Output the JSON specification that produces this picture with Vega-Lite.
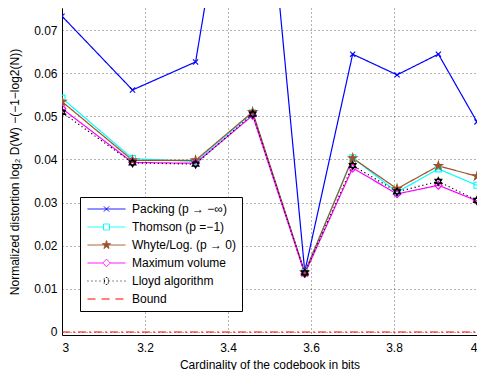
{
  "$schema": "https://vega.github.io/schema/vega-lite/v6.json",
  "autosize": {"type": "none"},
  "padding": {"left": 62, "top": 8, "right": 0, "bottom": 35},
  "width": 415,
  "height": 327,
  "background": "white",
  "config": {
    "font": "Liberation Sans",
    "view": {"stroke": null},
    "axis": {"labelFont": "Liberation Sans", "titleFont": "Liberation Sans", "labelFontSize": 12, "titleFontSize": 12, "titleFontWeight": "normal", "labelColor": "#000", "titleColor": "#000", "domainColor": "#000", "domainWidth": 1, "ticks": false, "gridColor": "#000", "gridOpacity": 0.6, "gridDash": [1, 3], "gridWidth": 1}
  },
  "data": {"values": [
    {"series": "Packing (p → −∞)", "x": 3, "y": 0.0732},
    {"series": "Packing (p → −∞)", "x": 3.1699, "y": 0.0561},
    {"series": "Packing (p → −∞)", "x": 3.3219, "y": 0.0626},
    {"series": "Packing (p → −∞)", "x": 3.4594, "y": 0.142},
    {"series": "Packing (p → −∞)", "x": 3.585, "y": 0.0140},
    {"series": "Packing (p → −∞)", "x": 3.7004, "y": 0.0644},
    {"series": "Packing (p → −∞)", "x": 3.8074, "y": 0.0596},
    {"series": "Packing (p → −∞)", "x": 3.9069, "y": 0.0644},
    {"series": "Packing (p → −∞)", "x": 4, "y": 0.0487},
    {"series": "Thomson (p =−1)", "x": 3, "y": 0.0542},
    {"series": "Thomson (p =−1)", "x": 3.1699, "y": 0.0402},
    {"series": "Thomson (p =−1)", "x": 3.3219, "y": 0.0395},
    {"series": "Thomson (p =−1)", "x": 3.4594, "y": 0.0508},
    {"series": "Thomson (p =−1)", "x": 3.585, "y": 0.0138},
    {"series": "Thomson (p =−1)", "x": 3.7004, "y": 0.0404},
    {"series": "Thomson (p =−1)", "x": 3.8074, "y": 0.0324},
    {"series": "Thomson (p =−1)", "x": 3.9069, "y": 0.0378},
    {"series": "Thomson (p =−1)", "x": 4, "y": 0.0340},
    {"series": "Whyte/Log. (p → 0)", "x": 3, "y": 0.0534},
    {"series": "Whyte/Log. (p → 0)", "x": 3.1699, "y": 0.0398},
    {"series": "Whyte/Log. (p → 0)", "x": 3.3219, "y": 0.0398},
    {"series": "Whyte/Log. (p → 0)", "x": 3.4594, "y": 0.0510},
    {"series": "Whyte/Log. (p → 0)", "x": 3.585, "y": 0.0138},
    {"series": "Whyte/Log. (p → 0)", "x": 3.7004, "y": 0.0403},
    {"series": "Whyte/Log. (p → 0)", "x": 3.8074, "y": 0.0332},
    {"series": "Whyte/Log. (p → 0)", "x": 3.9069, "y": 0.0385},
    {"series": "Whyte/Log. (p → 0)", "x": 4, "y": 0.0361},
    {"series": "Maximum volume", "x": 3, "y": 0.0518},
    {"series": "Maximum volume", "x": 3.1699, "y": 0.0393},
    {"series": "Maximum volume", "x": 3.3219, "y": 0.0391},
    {"series": "Maximum volume", "x": 3.4594, "y": 0.0502},
    {"series": "Maximum volume", "x": 3.585, "y": 0.0135},
    {"series": "Maximum volume", "x": 3.7004, "y": 0.0380},
    {"series": "Maximum volume", "x": 3.8074, "y": 0.0320},
    {"series": "Maximum volume", "x": 3.9069, "y": 0.0340},
    {"series": "Maximum volume", "x": 4, "y": 0.0304},
    {"series": "Lloyd algorithm", "x": 3, "y": 0.0509},
    {"series": "Lloyd algorithm", "x": 3.1699, "y": 0.0392},
    {"series": "Lloyd algorithm", "x": 3.3219, "y": 0.0389},
    {"series": "Lloyd algorithm", "x": 3.4594, "y": 0.0505},
    {"series": "Lloyd algorithm", "x": 3.585, "y": 0.0137},
    {"series": "Lloyd algorithm", "x": 3.7004, "y": 0.0386},
    {"series": "Lloyd algorithm", "x": 3.8074, "y": 0.0325},
    {"series": "Lloyd algorithm", "x": 3.9069, "y": 0.0349},
    {"series": "Lloyd algorithm", "x": 4, "y": 0.0305},
    {"series": "Bound", "x": 3, "y": 0},
    {"series": "Bound", "x": 4, "y": 0}
  ]},
  "layer": [
    {
      "mark": {"type": "line", "clip": true, "strokeWidth": 1.2},
      "encoding": {
        "x": {"field": "x", "type": "quantitative", "scale": {"domain": [3, 4], "nice": false, "zero": false}, "axis": {"values": [3, 3.2, 3.4, 3.6, 3.8, 4], "title": "Cardinality of the codebook in bits", "labelPadding": 7, "titlePadding": 6, "grid": true, "format": "~g"}},
        "y": {"field": "y", "type": "quantitative", "scale": {"domain": [-0.0007, 0.0751], "nice": false, "zero": false}, "axis": {"values": [0, 0.01, 0.02, 0.03, 0.04, 0.05, 0.06, 0.07], "title": "Normalized distortion log₂ D(W) −(−1−log2(N))", "labelPadding": 5, "titlePadding": 12, "grid": true, "format": "~g"}},
        "color": {
          "field": "series", "type": "nominal",
          "scale": {"domain": ["Packing (p → −∞)", "Thomson (p =−1)", "Whyte/Log. (p → 0)", "Maximum volume", "Lloyd algorithm", "Bound"], "range": ["#0000ff", "#00ffff", "#a0522d", "#ff00ff", "#000000", "#ff0000"]},
          "legend": {
            "title": null, "orient": "none", "legendX": 18, "legendY": 189,
            "fillColor": "white", "strokeColor": "#000", "padding": 5, "cornerRadius": 0,
            "labelFontSize": 12, "labelFont": "Liberation Sans", "labelColor": "#000",
            "symbolSize": 1444, "symbolStrokeWidth": 1, "clipHeight": 14, "rowPadding": 4,
            "symbolOffset": 2, "labelOffset": 6,
            "encode": {"symbols": {"update": {
              "shape": {"signal": "datum.value === 'Packing (p → −∞)' ? 'M-1,0H1M-0.137,-0.137L0.137,0.137M-0.137,0.137L0.137,-0.137' : datum.value === 'Thomson (p =−1)' ? 'M-1,0H-0.158M0.158,0H1M-0.158,-0.158H0.158V0.158H-0.158Z' : datum.value === 'Whyte/Log. (p → 0)' ? 'M-1,0H1M0,-0.23L0.052,-0.071L0.219,-0.071L0.083,0.027L0.135,0.186L0,0.088L-0.135,0.186L-0.083,0.027L-0.219,-0.071L-0.052,-0.071Z' : datum.value === 'Maximum volume' ? 'M-1,0H-0.2M0.2,0H1M0,-0.2L0.2,0L0,0.2L-0.2,0Z' : datum.value === 'Lloyd algorithm' ? 'M-1,0h0.05M-0.79,0h0.05M-0.58,0h0.05M-0.37,0h0.05M0.32,0h0.05M0.53,0h0.05M0.74,0h0.05M0.95,0h0.05M0,-0.21L0.182,0.105L-0.182,0.105ZM0,0.21L0.182,-0.105L-0.182,-0.105Z' : 'M-1,0H-0.47M-0.26,0H0.26M0.47,0H1'"},
              "fill": {"signal": "datum.value === 'Whyte/Log. (p → 0)' ? '#a0522d' : 'transparent'"},
              "strokeWidth": {"value": 1},
              "strokeDash": {"value": []},
              "size": {"value": 1444}
            }}}
          }
        },
        "strokeDash": {
          "field": "series", "type": "nominal",
          "scale": {"domain": ["Packing (p → −∞)", "Thomson (p =−1)", "Whyte/Log. (p → 0)", "Maximum volume", "Lloyd algorithm", "Bound"], "range": [[1, 0], [1, 0], [1, 0], [1, 0], [1.2, 2.8], [8, 3, 2, 3]]},
          "legend": null
        }
      }
    },
    {
      "transform": [{"filter": "datum.series !== 'Bound'"}],
      "mark": {"type": "point", "clip": true, "size": 64, "strokeWidth": 1.1, "opacity": 1},
      "encoding": {
        "x": {"field": "x", "type": "quantitative"},
        "y": {"field": "y", "type": "quantitative"},
        "color": {"field": "series", "type": "nominal"},
        "shape": {
          "field": "series", "type": "nominal",
          "scale": {"domain": ["Packing (p → −∞)", "Thomson (p =−1)", "Whyte/Log. (p → 0)", "Maximum volume", "Lloyd algorithm"], "range": ["M-0.65,-0.65L0.65,0.65M-0.65,0.65L0.65,-0.65", "M-0.75,-0.75H0.75V0.75H-0.75Z", "M0,-1.1L0.248,-0.34L1.046,-0.34L0.399,0.13L0.647,0.89L0,0.42L-0.647,0.89L-0.399,0.13L-1.046,-0.34L-0.248,-0.34Z", "M0,-0.95L0.95,0L0,0.95L-0.95,0Z", "M0,-1L0.866,0.5L-0.866,0.5ZM0,1L0.866,-0.5L-0.866,-0.5Z"]},
          "legend": null
        },
        "fill": {
          "field": "series", "type": "nominal",
          "scale": {"domain": ["Packing (p → −∞)", "Thomson (p =−1)", "Whyte/Log. (p → 0)", "Maximum volume", "Lloyd algorithm"], "range": ["transparent", "transparent", "#a0522d", "transparent", "transparent"]},
          "legend": null
        }
      }
    }
  ],
  "resolve": {"scale": {"fill": "independent", "shape": "independent"}}
}
